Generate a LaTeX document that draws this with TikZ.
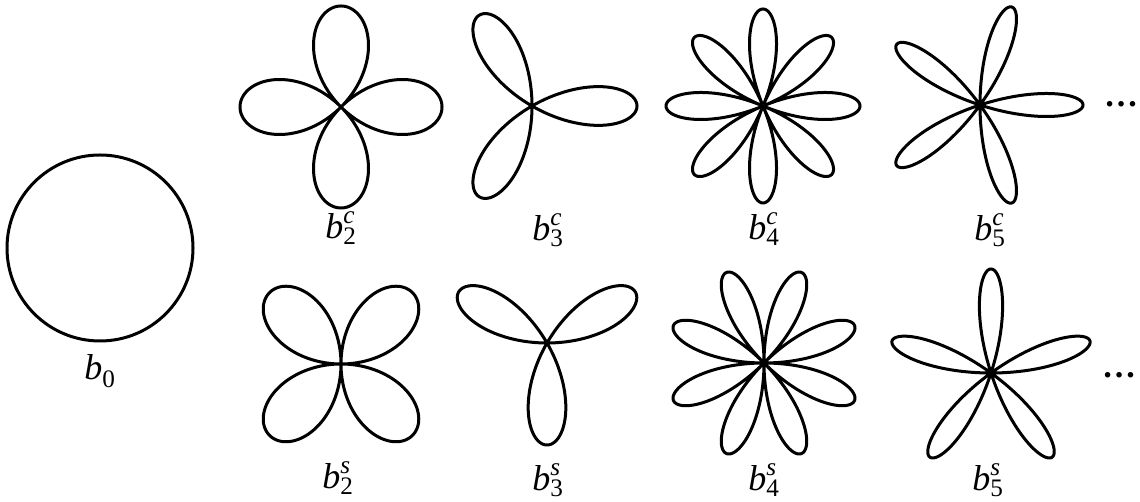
\documentclass[tikz,border=0pt]{standalone}
\usepackage{amsmath}
\usepackage{fontspec}
\setmainfont{Liberation Serif}
\tikzset{
  curve/.style={line width=3pt, line join=round},
  lbl/.style={font=\fontsize{36}{42}\selectfont, inner sep=0pt},
  dotlbl/.style={font=\fontsize{34}{40}\selectfont\bfseries, inner sep=0pt},
}
% #1 cx, #2 cy, #3 R, #4 n, #5 cos or sin, #6 end angle
\newcommand{\myrose}[6]{%
  \draw[curve] plot[domain=0:#6, samples=721, smooth, variable=\t]
    ({#1+#3*#5(#4*\t)*cos(\t)}, {#2+#3*#5(#4*\t)*sin(\t)}) -- cycle;}
\newcommand{\lab}[2]{$\textit{b}^{\textit{#1}}_{\textrm{#2}}$}
\begin{document}
\begin{tikzpicture}[x=1pt,y=1pt]
\useasboundingbox (0,0) rectangle (1140,502);
% b0
\draw[curve] (100,254) circle (93);
\node[lbl] (l0) at (100,131) {$\textit{b}_{\textrm{0}}$};
% top row (cos)
\myrose{341}{395}{101}{2}{cos}{360}
\myrose{532}{396}{105}{3}{cos}{180}
\myrose{763}{396}{97}{4}{cos}{360}
\myrose{980}{397}{103}{5}{cos}{180}
\node[lbl] (l2c) at (341,274) {\lab{c}{2}};
\node[lbl] (l3c) at (548,272) {\lab{c}{3}};
\node[lbl] (l4c) at (764,273) {\lab{c}{4}};
\node[lbl] (l5c) at (990,272) {\lab{c}{5}};
\node[dotlbl] (d1) at (1121,398) {\ldots};
% bottom row (sin)
\myrose{341}{138}{101}{2}{sin}{360}
\myrose{547}{159}{102}{3}{sin}{180}
\myrose{764}{139}{98}{4}{sin}{360}
\myrose{991}{129}{104}{5}{sin}{180}
\node[lbl] (l2s) at (338,24) {\lab{s}{2}};
\node[lbl] (l3s) at (548,22) {\lab{s}{3}};
\node[lbl] (l4s) at (764,22) {\lab{s}{4}};
\node[lbl] (l5s) at (988,22) {\lab{s}{5}};
\node[dotlbl] (d2) at (1119,127) {\ldots};
\end{tikzpicture}
\end{document}
